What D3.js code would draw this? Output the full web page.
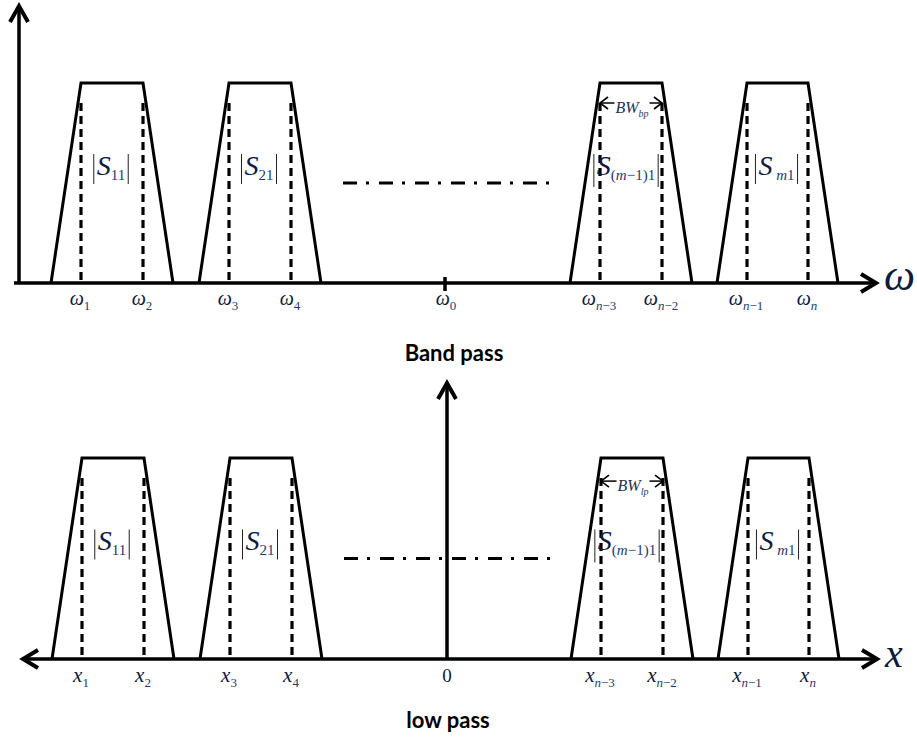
<!DOCTYPE html>
<html>
<head>
<meta charset="utf-8">
<script src="https://cdn.jsdelivr.net/npm/d3@7"></script>
<style>
  body { margin: 0; background: #fff; }
</style>
</head>
<body>
<div id="chart"></div>
<script>

// passband edges (inner corners) of the four filters, on the frequency axis
var passbands = [[81, 143], [229, 291], [600, 662], [747, 808]];
var skirtWidth = 30;
var centerFreq = 445;

// |S| labels: main letter and subscript
var bandNames = [["S", "11"], ["S", "21"], ["S", "(m\u22121)1"], ["S", " m1"]];

// tick labels under each axis (same order as passband edges, centre last)
var bpTicks = ["1", "2", "3", "4", "n\u22123", "n\u22122", "n\u22121", "n"];
var bpCenter = "0";
var lpTicks = ["1", "2", "3", "4", "n\u22123", "n\u22122", "n\u22121", "n"];
var lpCenter = "0";

// level (|S| = 1 on the flat top) of the markers inside the bands
var dashTop = 0.9;
var labelLevel = 0.54;
var dashDotLevel = 0.5;
var dashDotSpan = [343, 553];

var panels = [
  { title: "Band pass", sym: "\u03c9", bw: "bp", ticks: bpTicks, center: bpCenter,
    y0: 283, y1: 83, shift: 0, titleX: 454, titleY: 361, lowpass: false },
  { title: "low pass", sym: "x", bw: "lp", ticks: lpTicks, center: lpCenter,
    y0: 659, y1: 458, shift: 1, titleX: 448, titleY: 728, lowpass: true }
];

var serif = "'Liberation Serif', 'Times New Roman', Times, serif";
var width = 917, height = 746;

var svg = d3.select("#chart").append("svg")
    .attr("width", width)
    .attr("height", height);

function mathText(g) {
  return g.append("text")
      .attr("font-family", serif)
      .attr("fill", "#14213d");
}

// write a subscript where letters go italic and digits/signs stay upright
function addSub(text, sub, size, dy) {
  var first = true;
  sub.split("").forEach(function(ch) {
    var t = text.append("tspan")
        .attr("font-size", size)
        .attr("fill", "#1f3a6e")
        .attr("font-style", /[a-z]/.test(ch) ? "italic" : "normal")
        .text(ch);
    if (first) { t.attr("dy", dy); first = false; }
  });
}

function chevron(g, tipX, tipY, dir) {
  var pts;
  if (dir == "up") pts = [[tipX - 9, tipY + 16], [tipX, tipY], [tipX + 9, tipY + 16]];
  else if (dir == "right") pts = [[tipX - 15, tipY - 9], [tipX, tipY], [tipX - 15, tipY + 9]];
  else pts = [[tipX + 15, tipY - 9], [tipX, tipY], [tipX + 15, tipY + 9]];
  g.append("path")
      .attr("d", d3.line()(pts))
      .attr("fill", "none")
      .attr("stroke", "#000")
      .attr("stroke-width", 4)
      .attr("stroke-linejoin", "miter");
}

panels.forEach(function(p) {

  var x = d3.scaleLinear().domain([0, width]).range([p.shift, width + p.shift]);
  var y = d3.scaleLinear().domain([0, 1]).range([p.y0, p.y1]);
  var g = svg.append("g");

  //--------------------------------------------------------------------------
  // Axes

  var axisLeft = p.lowpass ? x(22) : x(14);
  var axisRight = x(876);
  g.append("line")
      .attr("x1", axisLeft).attr("x2", axisRight)
      .attr("y1", y(0)).attr("y2", y(0))
      .attr("stroke", "#000").attr("stroke-width", 3.5);
  chevron(g, axisRight, y(0), "right");

  var vx = p.lowpass ? x(centerFreq + 1) : x(19);
  var vTop = p.lowpass ? 383 : 6;
  g.append("line")
      .attr("x1", vx).attr("x2", vx)
      .attr("y1", y(0) + 1).attr("y2", vTop)
      .attr("stroke", "#000").attr("stroke-width", 3.5);
  chevron(g, vx, vTop, "up");

  if (p.lowpass) {
    chevron(g, axisLeft, y(0), "left");
  } else {
    g.append("line")
        .attr("x1", x(centerFreq)).attr("x2", x(centerFreq))
        .attr("y1", y(0) - 6).attr("y2", y(0) + 8)
        .attr("stroke", "#000").attr("stroke-width", 3.5);
  }

  mathText(g)
      .attr("x", x(884))
      .attr("y", y(0) + (p.lowpass ? 8 : 7))
      .attr("font-size", p.lowpass ? 40 : 44)
      .attr("font-style", "italic")
      .attr("fill", "#0d1b3d")
      .text(p.sym);

  //--------------------------------------------------------------------------
  // Filter bands

  var line = d3.line().x(function(d) { return x(d[0]); }).y(function(d) { return y(d[1]); });

  passbands.forEach(function(b, i) {
    var pts = [[b[0] - skirtWidth, 0], [b[0], 1], [b[1], 1], [b[1] + skirtWidth, 0]];
    g.append("path")
        .attr("d", line(pts))
        .attr("fill", "none")
        .attr("stroke", "#000")
        .attr("stroke-width", 3)
        .attr("stroke-linejoin", "miter");

    b.forEach(function(e) {
      g.append("line")
          .attr("x1", x(e)).attr("x2", x(e))
          .attr("y1", y(dashTop)).attr("y2", y(0))
          .attr("stroke", "#000")
          .attr("stroke-width", 3.2)
          .attr("stroke-dasharray", "8,5");
    });

    // |S| label with the two bars
    var name = bandNames[i];
    var t = mathText(g)
        .attr("x", x((b[0] + b[1]) / 2) - (i == 2 ? 5 : 1))
        .attr("y", y(labelLevel))
        .attr("text-anchor", "middle");
    t.append("tspan")
        .attr("font-size", 28)
        .attr("font-style", "italic")
        .attr("fill", "#0d1b3d")
        .text(name[0]);
    addSub(t, name[1], 15, 5);
    var bb = t.node().getBBox();
    [bb.x - 3, bb.x + bb.width + 3].forEach(function(bx) {
      g.append("line")
          .attr("x1", bx).attr("x2", bx)
          .attr("y1", y(labelLevel) - 21).attr("y2", y(labelLevel) + (i == 2 ? 12 : 9))
          .attr("stroke", "#222")
          .attr("stroke-width", 1);
    });
  });

  // bandwidth arrow on the third band
  var bwb = passbands[2];
  var bwY = y(dashTop) + (p.lowpass ? 3 : 0);
  var bwText = mathText(g)
      .attr("x", x((bwb[0] + bwb[1]) / 2) + 1)
      .attr("y", bwY + 10)
      .attr("text-anchor", "middle");
  bwText.append("tspan")
      .attr("font-size", 16)
      .attr("font-style", "italic")
      .attr("fill", "#1f2f55")
      .text("BW");
  addSub(bwText, p.bw, 10, 4);
  var tb = bwText.node().getBBox();
  [[x(bwb[0]), tb.x - 1], [tb.x + tb.width + 1, x(bwb[1])]].forEach(function(s) {
    g.append("line")
        .attr("x1", s[0]).attr("x2", s[1])
        .attr("y1", bwY).attr("y2", bwY)
        .attr("stroke", "#000").attr("stroke-width", 1.5);
  });
  [[x(bwb[0]), 1], [x(bwb[1]), -1]].forEach(function(a) {
    g.append("path")
        .attr("d", d3.line()([[a[0] + 8 * a[1], bwY - 6], [a[0], bwY], [a[0] + 8 * a[1], bwY + 6]]))
        .attr("fill", "none")
        .attr("stroke", "#000")
        .attr("stroke-width", 1.6);
  });

  // dash-dot continuation between the band groups
  g.append("line")
      .attr("x1", x(dashDotSpan[0])).attr("x2", x(dashDotSpan[1]))
      .attr("y1", y(dashDotLevel)).attr("y2", y(dashDotLevel))
      .attr("stroke", "#000")
      .attr("stroke-width", 3)
      .attr("stroke-dasharray", "14,9,3,10");

  //--------------------------------------------------------------------------
  // Tick labels

  var edges = [];
  passbands.forEach(function(b) { edges.push(b[0], b[1]); });
  var labelY = p.lowpass ? y(0) + 23 : y(0) + 22;

  edges.forEach(function(e, i) {
    var t = mathText(g)
        .attr("x", x(e) - 1)
        .attr("y", labelY)
        .attr("text-anchor", "middle");
    t.append("tspan")
        .attr("font-size", p.lowpass ? 21 : 20)
        .attr("font-style", "italic")
        .attr("fill", "#0d1b3d")
        .text(p.sym);
    addSub(t, p.ticks[i], 13, 5);
  });

  var ct = mathText(g)
      .attr("x", x(centerFreq) + 1)
      .attr("y", labelY)
      .attr("text-anchor", "middle");
  if (p.lowpass) {
    ct.attr("font-size", 19).attr("fill", "#0d1b3d").text(p.center);
  } else {
    ct.append("tspan")
        .attr("font-size", 20)
        .attr("font-style", "italic")
        .attr("fill", "#0d1b3d")
        .text(p.sym);
    addSub(ct, p.center, 13, 5);
  }

  // panel caption
  g.append("text")
      .attr("font-family", "Lato, 'Open Sans', sans-serif")
      .attr("font-weight", "bold")
      .attr("font-size", 22)
      .attr("fill", "#000")
      .attr("x", p.titleX)
      .attr("y", p.titleY)
      .attr("text-anchor", "middle")
      .text(p.title);
});

</script>
</body>
</html>
